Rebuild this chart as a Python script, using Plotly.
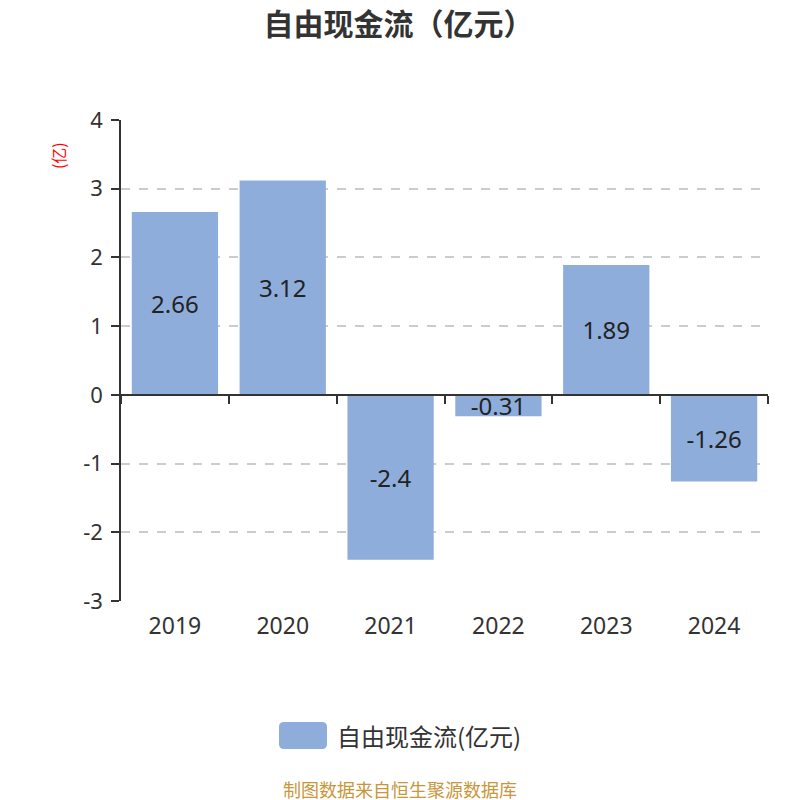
import plotly.graph_objects as go

# data
years = ['2019', '2020', '2021', '2022', '2023', '2024']
free_cash_flow = [2.66, 3.12, -2.4, -0.31, 1.89, -1.26]
series_name = '自由现金流(亿元)'
y_ticks = [4, 3, 2, 1, 0, -1, -2, -3]

bar_color = '#8EADDA'
font_family = 'Noto Sans, Noto Sans CJK SC, sans-serif'

fig = go.Figure()

fig.add_trace(go.Bar(
    x=years, y=free_cash_flow,
    name=series_name,
    marker=dict(color=bar_color, line=dict(width=0)),
    width=0.8,
    text=[str(v) for v in free_cash_flow],
    textposition='inside',
    insidetextanchor='middle',
    constraintext='none',
    textfont=dict(size=24, color='#222'),
    showlegend=False,
))

# invisible trace on xaxis2, only to draw the boundary ticks along y=0
fig.add_trace(go.Bar(x=years, y=[0] * len(years), xaxis='x2',
                     marker=dict(color='rgba(0,0,0,0)'), showlegend=False,
                     hoverinfo='skip'))

y_min, y_max = -3, 4

fig.update_layout(
    width=800, height=800,
    margin=dict(l=113, r=40, t=112, b=207),
    plot_bgcolor='white', paper_bgcolor='white',
    font=dict(family=font_family, color='#333'),
    uniformtext=dict(minsize=24, mode='show'),
    title=dict(text='<b>自由现金流（亿元）</b>', x=0.488, xanchor='center',
               y=0.98, yanchor='middle',
               font=dict(size=30, color='#333', family='Noto Sans CJK SC')),
    bargap=0.2,
    xaxis=dict(
        showline=False, ticks='', showgrid=False,
        tickfont=dict(size=23, color='#333'),
        ticklabelstandoff=9,
    ),
    xaxis2=dict(
        overlaying='x', anchor='free', position=(0 - y_min) / (y_max - y_min),
        showline=True, linecolor='#333', linewidth=1.5,
        ticks='outside', ticklen=8, tickcolor='#333', tickwidth=1.5,
        tickson='boundaries', showticklabels=False, showgrid=False,
    ),
    yaxis=dict(
        range=[y_min, y_max], tickvals=y_ticks,
        ticktext=[str(t) for t in y_ticks],
        showline=True, linecolor='#333', linewidth=1.5,
        ticks='outside', ticklen=8, tickcolor='#333', tickwidth=1.5,
        showgrid=True, gridcolor='#cccccc', griddash='dash', gridwidth=1.5,
        zeroline=False,
        tickfont=dict(size=22, color='#333'),
        ticklabelstandoff=4,
    ),
    annotations=[
        dict(text='(亿)', xref='paper', yref='paper', x=-0.0974, y=0.927,
             xanchor='center', yanchor='middle',
             showarrow=False, textangle=-90,
             font=dict(size=16, color='red', family='Noto Sans CJK SC')),
        dict(text=series_name, xref='paper', yref='paper', x=0.331, y=-0.2786,
             xanchor='left', yanchor='middle', showarrow=False,
             font=dict(size=24, color='#333', family='Noto Sans CJK SC')),
        dict(text='制图数据来自恒生聚源数据库', xref='paper', yref='paper',
             x=0.431, y=-0.39, xanchor='center', yanchor='middle', showarrow=False,
             font=dict(size=18, color='#C8963C', family='Noto Sans CJK SC')),
    ],
    shapes=[
        # rounded legend swatch
        dict(type='path', xref='paper', yref='paper', line=dict(width=0),
             fillcolor=bar_color,
             path='M 0.2519,-0.2516 L 0.3107,-0.2516 Q 0.3184,-0.2516 0.3184,-0.262 '
                  'L 0.3184,-0.2973 Q 0.3184,-0.3077 0.3107,-0.3077 L 0.2519,-0.3077 '
                  'Q 0.2442,-0.3077 0.2442,-0.2973 L 0.2442,-0.262 '
                  'Q 0.2442,-0.2516 0.2519,-0.2516 Z'),
    ],
)

fig.write_html('out.html')
